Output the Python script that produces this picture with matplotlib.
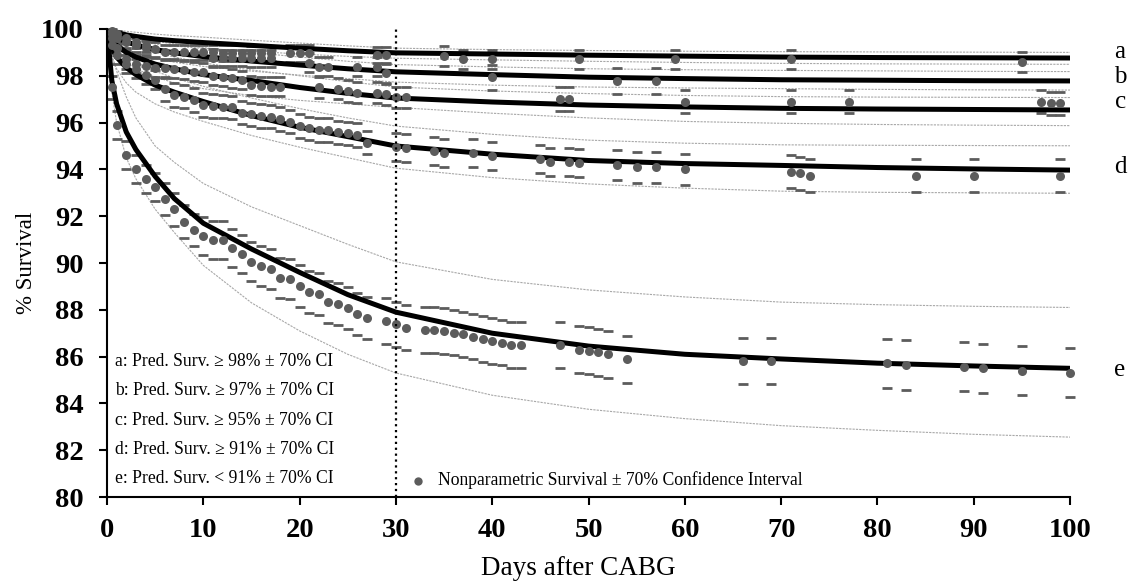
import matplotlib
matplotlib.use("Agg")
from matplotlib import pyplot

# fitted curves on a common day grid
grid_days = [0, 0.5, 1, 2, 3, 5, 7, 10, 15, 20, 25, 30, 40, 50, 60, 70, 80, 90, 100]

pred_a = [100, 99.9, 99.85, 99.75, 99.68, 99.57, 99.5, 99.42, 99.3, 99.18, 99.07, 98.98, 98.93, 98.88, 98.84, 98.8, 98.78, 98.77, 98.76]
upper_a = [100, 99.98, 99.95, 99.9, 99.86, 99.78, 99.72, 99.65, 99.52, 99.4, 99.28, 99.18, 99.12, 99.08, 99.05, 99.03, 99.02, 99.01, 99.0]
lower_a = [100, 99.8, 99.72, 99.6, 99.5, 99.36, 99.27, 99.17, 99.05, 98.93, 98.83, 98.75, 98.68, 98.62, 98.57, 98.53, 98.51, 98.5, 98.49]

pred_b = [100, 99.75, 99.62, 99.45, 99.32, 99.12, 98.98, 98.82, 98.63, 98.46, 98.3, 98.17, 98.05, 97.94, 97.88, 97.83, 97.81, 97.79, 97.78]
upper_b = [100, 99.9, 99.83, 99.72, 99.63, 99.48, 99.36, 99.2, 99.0, 98.8, 98.62, 98.48, 98.38, 98.3, 98.26, 98.23, 98.21, 98.19, 98.18]
lower_b = [100, 99.6, 99.4, 99.15, 98.98, 98.74, 98.58, 98.4, 98.2, 98.03, 97.88, 97.73, 97.6, 97.52, 97.48, 97.45, 97.42, 97.4, 97.39]

pred_c = [100, 99.55, 99.3, 99.0, 98.8, 98.5, 98.3, 98.05, 97.8, 97.5, 97.25, 97.05, 96.88, 96.75, 96.67, 96.61, 96.58, 96.56, 96.54]
upper_c = [100, 99.75, 99.6, 99.4, 99.25, 99.0, 98.8, 98.55, 98.25, 98.0, 97.75, 97.52, 97.35, 97.24, 97.16, 97.11, 97.09, 97.08, 97.07]
lower_c = [100, 99.3, 99.0, 98.6, 98.3, 97.95, 97.7, 97.45, 97.15, 96.95, 96.8, 96.65, 96.4, 96.2, 96.05, 95.97, 95.92, 95.89, 95.87]

pred_d = [100, 99.2, 98.8, 98.35, 98.05, 97.6, 97.3, 96.9, 96.3, 95.8, 95.4, 95.0, 94.65, 94.38, 94.25, 94.17, 94.08, 94.02, 93.97]
upper_d = [100, 99.5, 99.2, 98.85, 98.6, 98.2, 97.9, 97.55, 97.05, 96.6, 96.2, 95.85, 95.5, 95.25, 95.12, 95.05, 95.03, 95.02, 95.01]
lower_d = [100, 98.8, 98.3, 97.7, 97.3, 96.8, 96.45, 96.05, 95.45, 94.95, 94.5, 94.05, 93.65, 93.38, 93.2, 93.07, 93.02, 93.0, 92.98]

pred_e = [100, 97.8, 96.8, 95.6, 94.85, 93.7, 92.75, 91.7, 90.6, 89.6, 88.65, 87.9, 87.0, 86.45, 86.1, 85.9, 85.72, 85.6, 85.5]
upper_e = [100, 98.9, 98.2, 97.1, 96.2, 95.0, 94.3, 93.4, 92.4, 91.6, 90.8, 90.05, 89.3, 88.85, 88.55, 88.33, 88.22, 88.15, 88.1]
lower_e = [100, 97.3, 96.0, 94.5, 93.6, 92.3, 91.3, 89.9, 88.3, 87.1, 86.1, 85.3, 84.35, 83.75, 83.35, 83.05, 82.85, 82.68, 82.56]

# nonparametric survival points and 70% CI half widths
days_a = [0.5, 1, 2, 3, 4] + list(range(5, 18)) + [19, 20, 21, 28, 29, 35, 37, 40, 49, 59, 71, 95]
surv_a = [99.9, 99.8, 99.6, 99.45, 99.3,
          99.13, 99.0, 99.0, 99.0, 99.0, 99.0, 99.0, 98.97, 98.97, 98.97, 98.96, 98.96, 98.96,
          98.96, 98.96, 98.96, 98.89, 98.89, 98.85, 98.7, 98.7, 98.7, 98.7, 98.7, 98.6]
ci_a = [0.08, 0.12, 0.2, 0.25, 0.28] + [0.33] * 13 + [0.36] * 5 + [0.42] * 7

days_b = [0.5, 1, 2, 3, 4, 11, 12, 13, 14, 15, 16, 17, 21, 22, 23, 26, 28, 29, 40, 53, 57]
surv_b = [99.8, 99.6, 99.45, 99.3, 99.2, 98.78, 98.76, 98.75, 98.75, 98.74, 98.74, 98.74,
          98.56, 98.39, 98.39, 98.39, 98.39, 98.1, 97.93, 97.79, 97.79]
ci_b = [0.15, 0.2, 0.25, 0.3, 0.3] + [0.35] * 7 + [0.4] * 6 + [0.55] * 3

days_c = [0.5, 1] + list(range(2, 19)) + [22, 24, 25, 26, 28, 29, 30, 31, 47, 48, 60, 71, 77, 97, 98, 99]
surv_c = [99.6, 99.2,
          98.7, 98.5, 98.42, 98.35, 98.32, 98.3, 98.25, 98.18, 98.15, 97.99, 97.96, 97.89, 97.82, 97.6, 97.55, 97.53, 97.53,
          97.5, 97.44, 97.35, 97.28, 97.28, 97.22, 97.08, 97.08, 97.0, 97.0, 96.9, 96.9, 96.9, 96.9, 96.82, 96.82]
ci_c = [0.2, 0.3] + [0.4] * 17 + [0.45] * 8 + [0.5] * 8

days_d = [0.5] + list(range(1, 28)) + [30, 31, 34, 35, 38, 40, 45, 46, 48, 49, 53, 55, 57, 60, 71, 72, 73, 84, 90, 99]
surv_d = [99.3,
          98.9, 98.5, 98.3, 98.03, 97.83, 97.44, 97.18, 97.11, 96.97, 96.75, 96.71, 96.68, 96.65, 96.42,
          96.35, 96.28, 96.25, 96.15, 96.04, 95.85, 95.76, 95.68, 95.68, 95.58, 95.54, 95.47, 95.14,
          94.97, 94.93, 94.79, 94.69, 94.69, 94.59, 94.43, 94.33, 94.33, 94.26, 94.19, 94.09, 94.09, 94.0,
          93.9, 93.83, 93.73, 93.73, 93.73, 93.73]
ci_d = [0.3] + [0.4] * 5 + [0.5] * 22 + [0.6] * 10 + [0.65] * 4 + [0.7] * 6

days_e = [0.5] + list(range(1, 28)) + [29, 30, 31, 33, 34, 35, 36, 37, 38, 39, 40, 41, 42, 43,
                                       47, 49, 50, 51, 52, 54, 66, 69, 81, 83, 89, 91, 95, 100]
surv_e = [97.5,
          95.9, 94.6, 94.0, 93.58, 93.23, 92.74, 92.3, 91.77, 91.41, 91.15, 90.98, 90.98, 90.65, 90.38,
          90.06, 89.88, 89.73, 89.37, 89.3, 89.02, 88.75, 88.66, 88.32, 88.24, 88.09, 87.81, 87.66,
          87.53, 87.38, 87.24, 87.14, 87.14, 87.1, 87.02, 86.95, 86.85, 86.75, 86.67, 86.6, 86.5, 86.5,
          86.5, 86.3, 86.25, 86.18, 86.1, 85.88, 85.81, 85.81, 85.71, 85.64, 85.57, 85.5, 85.4, 85.31]
ci_e = [0.5] + [0.6] * 5 + [0.7] * 4 + [0.8] * 5 + [0.85] * 5 + [0.9] * 8 + [0.97] * 14 + [1.0] * 8 + [1.05] * 6

group_labels = ['a', 'b', 'c', 'd', 'e']
label_levels = [99.02, 97.95, 96.88, 94.12, 85.43]
legend_lines = ['a: Pred. Surv. \u2265 98% \u00b1 70% CI',
                'b: Pred. Surv. \u2265 97% \u00b1 70% CI',
                'c: Pred. Surv. \u2265 95% \u00b1 70% CI',
                'd: Pred. Surv. \u2265 91% \u00b1 70% CI',
                'e: Pred. Surv. < 91% \u00b1 70% CI']

SERIF = 'Liberation Serif'
GREY = '#5c5c5c'

figure = pyplot.figure(figsize=(11.31, 5.82), dpi=100)
ax = figure.add_axes([0.0946, 0.146, 0.8515, 0.8042])

curves = [(pred_a, upper_a, lower_a), (pred_b, upper_b, lower_b), (pred_c, upper_c, lower_c),
          (pred_d, upper_d, lower_d), (pred_e, upper_e, lower_e)]
points = [(days_a, surv_a, ci_a), (days_b, surv_b, ci_b), (days_c, surv_c, ci_c),
          (days_d, surv_d, ci_d), (days_e, surv_e, ci_e)]

for pred, upper, lower in curves:
    ax.plot(grid_days, upper, color='#a8a8a8', lw=0.8, ls=(0, (2, 1)), zorder=1)
    ax.plot(grid_days, lower, color='#a8a8a8', lw=0.8, ls=(0, (2, 1)), zorder=1)
    ax.plot(grid_days, pred, color='black', lw=3.6, solid_capstyle='butt', zorder=3)

for days, surv, ci in points:
    hi = [s + c for s, c in zip(surv, ci)]
    lo = [s - c for s, c in zip(surv, ci)]
    ax.plot(days, hi, ls='none', marker='_', ms=7, mew=2.0, color=GREY, zorder=2, clip_on=False)
    ax.plot(days, lo, ls='none', marker='_', ms=7, mew=2.0, color=GREY, zorder=2, clip_on=False)
    ax.plot(days, surv, ls='none', marker='o', ms=6.5, mew=0, color=GREY, zorder=4, clip_on=False)

ax.plot([30, 30], [80, 100], color='black', lw=1.6, ls=':', zorder=5)

for lab, lev in zip(group_labels, label_levels):
    ax.text(105.2, lev, lab, fontsize=18, family=SERIF, ha='center', va='center', clip_on=False)

for i, line in enumerate(legend_lines):
    ax.text(0.85, 85.78 - 1.245 * i, line, fontsize=12.7, family=SERIF, va='center')

ax.plot([32.3], [80.7], ls='none', marker='o', ms=6, mew=0, color=GREY)
ax.text(34.4, 80.72, 'Nonparametric Survival \u00b1 70% Confidence Interval', fontsize=12.7, family=SERIF, va='center')

ax.set_xlim(0, 100)
ax.set_ylim(80, 100)
ax.set_xticks(range(0, 101, 10))
ax.set_yticks(range(80, 101, 2))
ax.spines['top'].set_visible(False)
ax.spines['right'].set_visible(False)
ax.spines['left'].set_linewidth(1.5)
ax.spines['bottom'].set_linewidth(1.5)
ax.tick_params(direction='out', length=6, width=1.5)
ax.tick_params(axis='y', pad=11)
ax.tick_params(axis='x', pad=9)
for t in ax.get_xticklabels() + ax.get_yticklabels():
    t.set_fontfamily(SERIF)
    t.set_fontweight('bold')
    t.set_fontsize(20.5)

ax.set_xlabel('Days after CABG', fontsize=19.5, family=SERIF)
ax.set_ylabel('% Survival', fontsize=16.5, family=SERIF)
ax.xaxis.set_label_coords(0.489, -0.125)
ax.yaxis.set_label_coords(-0.0725, 0.5)

figure.savefig('out.png', dpi=100)
